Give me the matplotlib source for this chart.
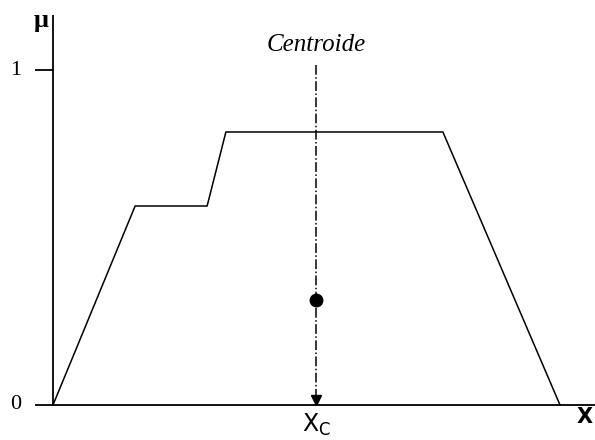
import matplotlib.pyplot as plt

# membership function (aggregated output set)
x_pts = [0.0, 1.62, 3.04, 3.41, 7.69, 10.0]
mu_pts = [0.0, 0.594, 0.594, 0.815, 0.815, 0.0]

# centroid
x_c = 5.19
mu_c = 0.313

y_ticks = [0, 1]
y_tick_labels = ["0", "1"]

fig = plt.figure(figsize=(5.95, 4.4), dpi=100)
ax = fig.add_axes([0, 0, 1, 1])
ax.set_xlim(-1.045, 10.69)
ax.set_ylim(-0.1045, 1.209)
ax.axis("off")

serif = "Liberation Serif"

# axes drawn by hand
ax.plot([-0.355, 10.69], [0, 0], color="black", lw=1.3, solid_capstyle="butt")
ax.plot([0, 0], [0, 1.164], color="black", lw=1.3, solid_capstyle="butt")
ax.plot([-0.355, 0], [1, 1], color="black", lw=1.3, solid_capstyle="butt")

for yv, lab in zip(y_ticks, y_tick_labels):
    ax.text(-0.74, yv, lab, fontsize=16, family=serif, ha="center", va="center")

ax.text(-0.23, 1.148, "μ", fontsize=19, fontweight="bold", family=serif,
        ha="center", va="center")
ax.text(10.48, -0.035, "X", fontsize=15, fontweight="bold", family="DejaVu Sans",
        ha="center", va="center")

# membership polyline
ax.plot(x_pts, mu_pts, color="black", lw=1.1)

# centroid line with arrow
ax.plot([x_c, x_c], [1.015, 0.03], color="black", lw=1.1, linestyle="-.")
ax.plot([x_c], [0.015], marker="v", color="black", markersize=7, linestyle="none")
ax.plot([x_c], [mu_c], marker="o", color="black", markersize=9, linestyle="none")

ax.text(x_c, 1.075, "Centroide", fontsize=18, style="italic", family=serif,
        ha="center", va="center")
ax.text(x_c, -0.06, "X$_\\mathregular{C}$", fontsize=17, family="DejaVu Sans",
        ha="center", va="center")

fig.savefig("out.png", dpi=100)
